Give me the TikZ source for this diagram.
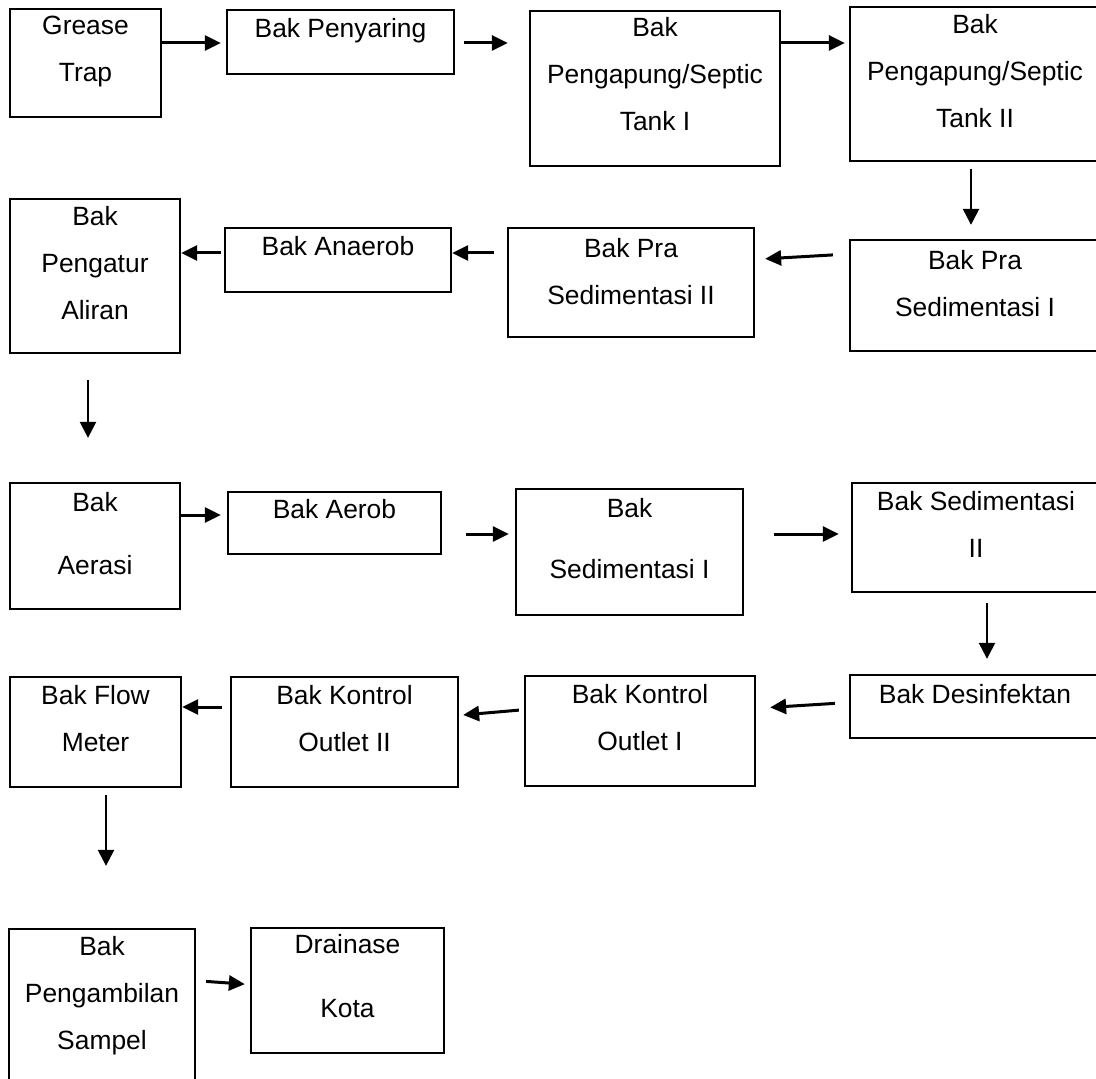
\documentclass[tikz,border=0pt]{standalone}
\usepackage{fontspec}
\setmainfont{Liberation Sans}
\usetikzlibrary{arrows.meta}
\begin{document}
\begin{tikzpicture}[x=0.5pt,y=-0.5pt,
  box/.style={draw, line width=1.15pt, rectangle, inner sep=0pt},
  txt/.style={anchor=north, inner sep=0pt, align=center, font={\fontsize{13.2}{23.5}\selectfont}},
  arr/.style={-{Triangle[length=8pt,width=7.5pt]}, line width=1.5pt},
  varr/.style={-{Triangle[length=8pt,width=8pt]}, line width=1.2pt}]
\useasboundingbox (0,0) rectangle (1096,1079);
\fill[white] (0,0) rectangle (1096,1079);

% row 1
\node[box, minimum width=75.5pt, minimum height=54pt] (grease) at (85.5,63) {};
\node[txt] (greaseT) at (85.5,15.5) {Grease\\Trap};
\node[box, minimum width=113.5pt, minimum height=32pt] (penyaring) at (340.5,42) {};
\node[txt] (penyaringT) at (340.5,17.5) {Bak Penyaring};
\node[box, minimum width=125pt, minimum height=77.5pt] (septic1) at (655,88.5) {};
\node[txt] (septic1T) at (655,16.5) {Bak\\Pengapung/Septic\\Tank I};
\node[box, minimum width=125pt, minimum height=77pt] (septic2) at (975,84) {};
\node[txt] (septic2T) at (975,13.5) {Bak\\Pengapung/Septic\\Tank II};

% row 2
\node[box, minimum width=125pt, minimum height=55.5pt] (prased1) at (975,295.5) {};
\node[txt] (prased1T) at (975,249.5) {Bak Pra\\Sedimentasi I};
\node[box, minimum width=123pt, minimum height=54.5pt] (prased2) at (631,282.5) {};
\node[txt] (prased2T) at (631,237.5) {Bak Pra\\Sedimentasi II};
\node[box, minimum width=113pt, minimum height=32pt] (anaerob) at (338,260) {};
\node[txt] (anaerobT) at (338,235.5) {Bak Anaerob};
\node[box, minimum width=85pt, minimum height=77pt] (pengatur) at (95,276) {};
\node[txt] (pengaturT) at (95,205.5) {Bak\\Pengatur\\Aliran};

% row 3
\node[box, minimum width=85pt, minimum height=63pt] (aerasi) at (95,546) {};
\node[txt] (aerasiT) at (95,491.5) {Bak\\[8pt]Aerasi};
\node[box, minimum width=106.5pt, minimum height=31pt] (aerob) at (334.5,523) {};
\node[txt] (aerobT) at (334.5,498.5) {Bak Aerob};
\node[box, minimum width=113.5pt, minimum height=63pt] (sed1) at (629.5,552) {};
\node[txt] (sed1T) at (629.5,497.5) {Bak\\[7pt]Sedimentasi I};
\node[box, minimum width=124pt, minimum height=54.5pt] (sed2) at (976,537.5) {};
\node[txt] (sed2T) at (976,490.5) {Bak Sedimentasi\\II};

% row 4
\node[box, minimum width=125pt, minimum height=31.5pt] (desinf) at (975,706.5) {};
\node[txt] (desinfT) at (975,683.5) {Bak Desinfektan};
\node[box, minimum width=115pt, minimum height=55pt] (kontrol1) at (640,731) {};
\node[txt] (kontrol1T) at (640,683.5) {Bak Kontrol\\Outlet I};
\node[box, minimum width=113.5pt, minimum height=55pt] (kontrol2) at (344.5,732) {};
\node[txt] (kontrol2T) at (344.5,684.5) {Bak Kontrol\\Outlet II};
\node[box, minimum width=85.5pt, minimum height=55pt] (flowmeter) at (95.5,732) {};
\node[txt] (flowmeterT) at (95.5,684.5) {Bak Flow\\Meter};

% row 5
\node[box, minimum width=93pt, minimum height=85.5pt] (sampel) at (102,1014.5) {};
\node[txt] (sampelT) at (102,935.5) {Bak\\Pengambilan\\Sampel};
\node[box, minimum width=96.5pt, minimum height=62.5pt] (drainase) at (347.5,990.5) {};
\node[txt] (drainaseT) at (347.5,933.5) {Drainase\\[8.5pt]Kota};

% connectors
\draw[arr, shorten >=2.5pt] (grease.east |- 0,43) -- (penyaring.west |- 0,43);
\draw[arr, shorten <=4.5pt, shorten >=10.5pt] (penyaring.east |- 0,43) -- (septic1.west |- 0,43);
\draw[arr, shorten >=2pt] (septic1.east |- 0,43) -- (septic2.west |- 0,43);
\draw[varr, shorten <=3.5pt, shorten >=7pt] (971,0 |- septic2.south) -- (971,0 |- prased1.north);
\draw[arr, shorten <=8pt, shorten >=5pt] (prased1.west |- 0,254) -- (prased2.east |- 0,259.4);
\draw[arr, shorten <=6.5pt] (prased2.west |- 0,253) -- (anaerob.east |- 0,253);
\draw[arr, shorten <=1.5pt] (anaerob.west |- 0,253) -- (pengatur.east |- 0,253);
\draw[varr, shorten <=13pt, shorten >=22pt] (88,0 |- pengatur.south) -- (88,0 |- aerasi.north);
\draw[arr, shorten >=3pt] (aerasi.east |- 0,515) -- (aerob.west |- 0,515);
\draw[arr, shorten <=12pt, shorten >=3pt] (aerob.east |- 0,534) -- (sed1.west |- 0,534);
\draw[arr, shorten <=15pt, shorten >=6pt] (sed1.east |- 0,534) -- (sed2.west |- 0,534);
\draw[varr, shorten <=5pt, shorten >=7.5pt] (987,0 |- sed2.south) -- (987,0 |- desinf.north);
\draw[arr, shorten <=7pt, shorten >=7pt] (desinf.west |- 0,702.5) -- (kontrol1.east |- 0,708.3);
\draw[arr, shorten <=2.5pt, shorten >=2pt] (kontrol1.west |- 0,709.7) -- (kontrol2.east |- 0,715.3);
\draw[arr, shorten <=4pt] (kontrol2.west |- 0,707) -- (flowmeter.east |- 0,707);
\draw[varr, shorten <=3.5pt, shorten >=31pt] (106,0 |- flowmeter.south) -- (106,0 |- sampel.north);
\draw[arr, shorten <=5pt, shorten >=2.5pt] (sampel.east |- 0,980.7) -- (drainase.west |- 0,984.5);
\end{tikzpicture}
\end{document}
